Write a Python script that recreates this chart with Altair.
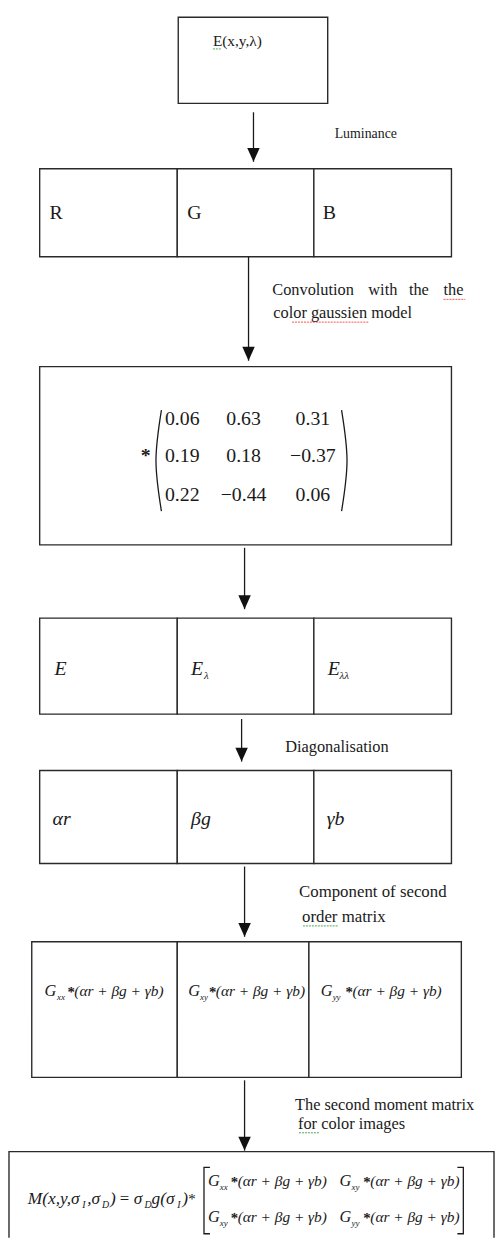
import altair as alt
import pandas as pd

# ---------------- data (figure pixel units) ----------------
# boxes: left, top, right, bottom
box_left   = [180, 40, 179, 317, 40, 40, 179, 317, 40, 179, 317, 32, 179, 312, 9]
box_top    = [11, 164, 164, 164, 364, 618, 618, 618, 772, 772, 772, 945, 945, 945, 1157]
box_right  = [331, 179, 317, 456, 456, 179, 317, 456, 179, 317, 456, 179, 312, 466, 499]
box_bottom = [98, 253, 253, 253, 544, 715, 715, 715, 866, 866, 866, 1082, 1082, 1082, 1275]

# arrows
arrow_x    = [256, 251, 247, 244, 247, 247]
arrow_from = [107, 253, 547, 720, 869, 1085]
arrow_tip  = [157, 358, 609, 763, 940, 1156]

# plain labels
label_text = ["E(x,y,λ)", "Luminance", "R", "G", "B",
              "Convolution", "with", "the", "the", "color gaussien model",
              "Diagonalisation", "Component of second", "order matrix",
              "The second moment matrix", "for color images"]
label_x = [215, 338, 50, 189, 326, 275, 372, 413, 448, 276, 288, 302, 305, 298, 301]
label_y = [40, 133, 215, 215, 215, 292, 292, 292, 292, 315, 753, 900, 925, 1115, 1134]
label_size = [15.5, 14, 20, 20, 20, 16.5, 16.5, 16.5, 16.5, 16.5, 16.5, 17, 17, 16.5, 16.5]

# colour matrix
mat_values = ["0.06", "0.63", "0.31",
              "0.19", "0.18", "−0.37",
              "0.22", "−0.44", "0.06"]
mat_col_x = [184, 246, 316]
mat_row_y = [423, 460, 500]

# italic cell labels
ital_text = ["E", "E", "E", "αr", "βg", "γb"]
ital_x = [55, 193, 331, 53, 193, 330]
ital_y = [675, 675, 675, 827, 827, 827]
ital_sub_text = ["λ", "λλ"]
ital_sub_x = [206, 343]
ital_sub_y = [680, 680]

# Gaussian derivative terms
g_x = [45, 190, 324, 210, 343, 210, 343]
g_y = [1000, 1000, 1000, 1192, 1192, 1228, 1228]
g_sub = ["xx", "xy", "yy", "xx", "xy", "xy", "yy"]
g_sub_x = [57.5, 202, 336, 222, 355, 222, 355]
g_star_x = [68, 211, 349, 233, 367, 233, 367]
g_rest_x = [75, 218, 356, 240, 374, 240, 374]
g_rest = "(αr + βg + γb)"

# second-moment formula pieces
m_text = ["M(x,y,σ", ",σ", ")", "σ", "g(σ", ")"]
m_x = [28, 88, 111, 135, 153, 184]
m_sub = ["I", "D", "D", "I"]
m_sub_x = [83, 103, 146, 179]
m_base = 1210
m_sym = ["=", "*"]
m_sym_x = [121, 190]

# brackets / parentheses (outline points)
paren_g = ["l", "l", "l", "r", "r", "r"]
paren_x = [163, 157.5, 163, 345, 350.5, 345]
paren_y = [408, 459, 510, 408, 459, 510]
brack_g = ["l"] * 4 + ["r"] * 4
brack_x = [212, 206, 206, 212, 462, 468, 468, 462]
brack_y = [1173, 1173, 1240, 1240, 1173, 1173, 1240, 1240]

# spell-check squiggles
sq_x1 = [448, 295, 306, 302, 215]
sq_x2 = [470, 373, 342, 322, 223]
sq_y = [296, 319, 929, 1138, 43]
sq_col = ["red", "red", "green", "green", "green"]

# ---------------- chart ----------------
xs = alt.Scale(domain=[8, 500])
ys = alt.Scale(domain=[8, 1244], reverse=True)
INK = "#1a1a1a"
SERIF = "Liberation Serif, Times New Roman, DejaVu Serif, serif"


def X(f):
    return alt.X(f, type="quantitative", scale=xs, axis=None)


def Y(f):
    return alt.Y(f, type="quantitative", scale=ys, axis=None)


def text_layer(t, x, y, s, italic=False, align="left", bold=False):
    df = pd.DataFrame({"t": t, "x": x, "y": y, "s": s})
    kw = dict(baseline="alphabetic", align=align, font=SERIF, color=INK)
    if italic:
        kw["fontStyle"] = "italic"
    if bold:
        kw["fontWeight"] = "bold"
    return alt.Chart(df).mark_text(**kw).encode(
        x=X("x"), y=Y("y"), text="t:N", size=alt.Size("s:Q", scale=None)
    )


boxes = alt.Chart(pd.DataFrame({"l": box_left, "t": box_top, "r": box_right, "b": box_bottom})).mark_rect(
    fill="white", stroke="#2a2a2a", strokeWidth=1.4, clip=True
).encode(x=X("l"), x2="r:Q", y=Y("t"), y2="b:Q")

arr_df = pd.DataFrame({"x": arrow_x, "y1": arrow_from, "y2": arrow_tip})
shafts = alt.Chart(arr_df).mark_rule(color=INK, strokeWidth=1.3).encode(x=X("x"), y=Y("y1"), y2="y2:Q")
heads = alt.Chart(arr_df).mark_point(
    shape="M-0.9,-1L0.9,-1L0,1Z", filled=True, size=196, color="#111", opacity=1, yOffset=-7
).encode(x=X("x"), y=Y("y2"))

labels = text_layer(label_text, label_x, label_y, label_size)

mat = text_layer(mat_values,
                 [mat_col_x[i % 3] for i in range(9)],
                 [mat_row_y[i // 3] for i in range(9)],
                 [20] * 9, align="center")
star = text_layer(["*"], [147], [460], [20], align="center", bold=True)

parens = alt.Chart(pd.DataFrame({"g": paren_g, "x": paren_x, "y": paren_y, "i": list(range(6))})).mark_line(
    interpolate="natural", color=INK, strokeWidth=1.3
).encode(x=X("x"), y=Y("y"), detail="g:N", order="i:Q")

bracks = alt.Chart(pd.DataFrame({"g": brack_g, "x": brack_x, "y": brack_y, "i": list(range(8))})).mark_line(
    color=INK, strokeWidth=1.3
).encode(x=X("x"), y=Y("y"), detail="g:N", order="i:Q")

ital = text_layer(ital_text, ital_x, ital_y, [20] * 6, italic=True)
ital_sub = text_layer(ital_sub_text, ital_sub_x, ital_sub_y, [11] * 2, italic=True)

gG = text_layer(["G"] * 7, g_x, g_y, [16.5] * 7, italic=True)
gS = text_layer(g_sub, g_sub_x, [v + 4 for v in g_y], [9] * 7, italic=True)
gT = text_layer(["*"] * 7, g_star_x, [v + 1 for v in g_y], [15] * 7, bold=True)
gR = text_layer([g_rest] * 7, g_rest_x, g_y, [15.5] * 7, italic=True)

mT = text_layer(m_text, m_x, [m_base] * len(m_text), [17.5] * len(m_text), italic=True)
mS = text_layer(m_sub, m_sub_x, [m_base + 4] * len(m_sub), [10] * len(m_sub), italic=True)
mY = text_layer(m_sym, m_sym_x, [m_base, m_base], [17, 15], bold=False)

sq = alt.Chart(pd.DataFrame({"x1": sq_x1, "x2": sq_x2, "y": sq_y, "c": sq_col})).mark_rule(
    strokeWidth=1, strokeDash=[2, 1], opacity=0.7
).encode(x=X("x1"), x2="x2:Q", y=Y("y"), color=alt.Color("c:N", scale=None))

chart = alt.layer(
    boxes, shafts, heads, labels, mat, star, parens, bracks, ital, ital_sub,
    gG, gS, gT, gR, mT, mS, mY, sq
).properties(
    width=492, height=1236, padding=0, autosize=alt.AutoSizeParams(type="none")
).configure_view(stroke=None)

chart.save("out.html", embed_options={"renderer": "svg", "actions": False})
